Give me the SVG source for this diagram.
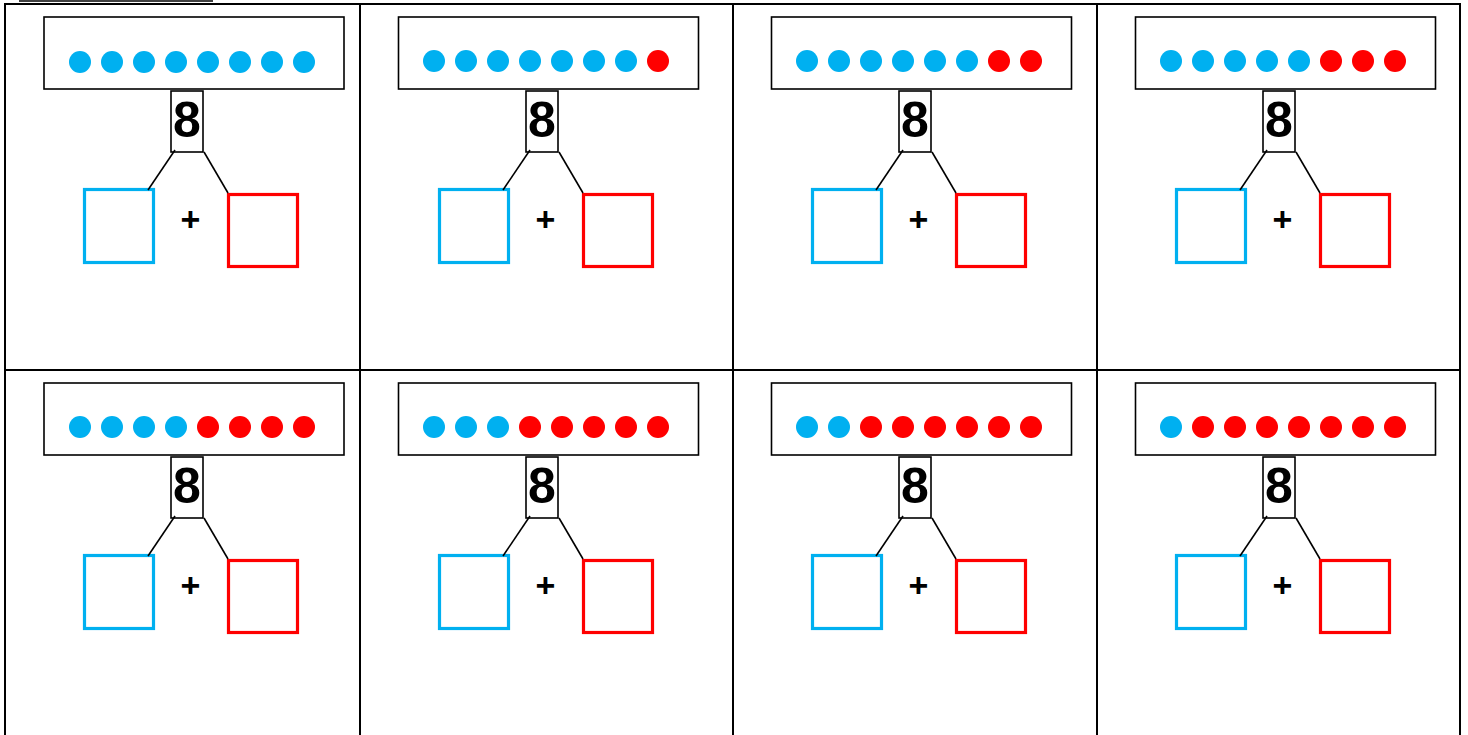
<svg xmlns="http://www.w3.org/2000/svg" width="1468" height="735" viewBox="0 0 1468 735">
<style>
.grid{stroke:#000;stroke-width:2;fill:none}
.frame{fill:#fff;stroke:#000;stroke-width:1.6}
.b{fill:#00B0F0}
.r{fill:#FF0000}
.num{fill:#fff;stroke:#000;stroke-width:1.6}
.eight{font-family:"Liberation Sans",Arial,sans-serif;font-weight:bold;font-size:50px;text-anchor:middle;fill:#000}
.plus{font-family:"Liberation Sans",Arial,sans-serif;font-weight:bold;font-size:34px;text-anchor:middle;fill:#000}
.bsq{fill:none;stroke:#00B0F0;stroke-width:3.2}
.rsq{fill:none;stroke:#FF0000;stroke-width:3.2}
.con{stroke:#000;stroke-width:1.6;fill:none}
</style>
<defs>
<g id="base">
<rect class="num" x="171" y="91" width="32" height="61"/>
<text class="eight" x="187" y="137">8</text>
<rect class="bsq" x="84.5" y="189.5" width="69" height="73"/>
<rect class="rsq" x="228.5" y="194.5" width="69" height="72"/>
<text class="plus" x="190.5" y="231">+</text>
</g>
<g id="lines">
<line class="con" x1="175" y1="150" x2="148" y2="190"/>
<line class="con" x1="204" y1="152" x2="228" y2="193"/>
</g>
</defs>
<rect x="0" y="0" width="1468" height="735" fill="#fff"/>
<line x1="19" y1="1" x2="213" y2="1" stroke="#000" stroke-width="1.5"/>
<g id="table" class="grid">
<line x1="4" y1="4" x2="1461" y2="4"/>
<line x1="4" y1="370" x2="1461" y2="370"/>
<line x1="5" y1="4" x2="5" y2="735"/>
<line x1="360" y1="4" x2="360" y2="735"/>
<line x1="733" y1="4" x2="733" y2="735"/>
<line x1="1097" y1="4" x2="1097" y2="735"/>
<line x1="1460" y1="4" x2="1460" y2="735"/>
</g>
<g id="cell1" transform="translate(0,0)">
<rect class="frame" x="44" y="17" width="300" height="72"/>
<circle class="b" cx="80" cy="62" r="11"/><circle class="b" cx="112" cy="62" r="11"/><circle class="b" cx="144" cy="62" r="11"/><circle class="b" cx="176" cy="62" r="11"/><circle class="b" cx="208" cy="62" r="11"/><circle class="b" cx="240" cy="62" r="11"/><circle class="b" cx="272" cy="62" r="11"/><circle class="b" cx="304" cy="62" r="11"/>
<use href="#base"/>
</g>
<g id="cell2" transform="translate(355,0)">
<rect class="frame" x="43.5" y="17" width="300" height="72"/>
<circle class="b" cx="79" cy="61" r="11"/><circle class="b" cx="111" cy="61" r="11"/><circle class="b" cx="143" cy="61" r="11"/><circle class="b" cx="175" cy="61" r="11"/><circle class="b" cx="207" cy="61" r="11"/><circle class="b" cx="239" cy="61" r="11"/><circle class="b" cx="271" cy="61" r="11"/><circle class="r" cx="303" cy="61" r="11"/>
<use href="#base"/>
</g>
<g id="cell3" transform="translate(728,0)">
<rect class="frame" x="43.5" y="17" width="300" height="72"/>
<circle class="b" cx="79" cy="61" r="11"/><circle class="b" cx="111" cy="61" r="11"/><circle class="b" cx="143" cy="61" r="11"/><circle class="b" cx="175" cy="61" r="11"/><circle class="b" cx="207" cy="61" r="11"/><circle class="b" cx="239" cy="61" r="11"/><circle class="r" cx="271" cy="61" r="11"/><circle class="r" cx="303" cy="61" r="11"/>
<use href="#base"/>
</g>
<g id="cell4" transform="translate(1092,0)">
<rect class="frame" x="43.5" y="17" width="300" height="72"/>
<circle class="b" cx="79" cy="61" r="11"/><circle class="b" cx="111" cy="61" r="11"/><circle class="b" cx="143" cy="61" r="11"/><circle class="b" cx="175" cy="61" r="11"/><circle class="b" cx="207" cy="61" r="11"/><circle class="r" cx="239" cy="61" r="11"/><circle class="r" cx="271" cy="61" r="11"/><circle class="r" cx="303" cy="61" r="11"/>
<use href="#base"/>
</g>
<g id="cell5" transform="translate(0,366)">
<rect class="frame" x="44" y="17" width="300" height="72"/>
<circle class="b" cx="80" cy="61" r="11"/><circle class="b" cx="112" cy="61" r="11"/><circle class="b" cx="144" cy="61" r="11"/><circle class="b" cx="176" cy="61" r="11"/><circle class="r" cx="208" cy="61" r="11"/><circle class="r" cx="240" cy="61" r="11"/><circle class="r" cx="272" cy="61" r="11"/><circle class="r" cx="304" cy="61" r="11"/>
<use href="#base"/>
</g>
<g id="cell6" transform="translate(355,366)">
<rect class="frame" x="43.5" y="17" width="300" height="72"/>
<circle class="b" cx="79" cy="61" r="11"/><circle class="b" cx="111" cy="61" r="11"/><circle class="b" cx="143" cy="61" r="11"/><circle class="r" cx="175" cy="61" r="11"/><circle class="r" cx="207" cy="61" r="11"/><circle class="r" cx="239" cy="61" r="11"/><circle class="r" cx="271" cy="61" r="11"/><circle class="r" cx="303" cy="61" r="11"/>
<use href="#base"/>
</g>
<g id="cell7" transform="translate(728,366)">
<rect class="frame" x="43.5" y="17" width="300" height="72"/>
<circle class="b" cx="79" cy="61" r="11"/><circle class="b" cx="111" cy="61" r="11"/><circle class="r" cx="143" cy="61" r="11"/><circle class="r" cx="175" cy="61" r="11"/><circle class="r" cx="207" cy="61" r="11"/><circle class="r" cx="239" cy="61" r="11"/><circle class="r" cx="271" cy="61" r="11"/><circle class="r" cx="303" cy="61" r="11"/>
<use href="#base"/>
</g>
<g id="cell8" transform="translate(1092,366)">
<rect class="frame" x="43.5" y="17" width="300" height="72"/>
<circle class="b" cx="79" cy="61" r="11"/><circle class="r" cx="111" cy="61" r="11"/><circle class="r" cx="143" cy="61" r="11"/><circle class="r" cx="175" cy="61" r="11"/><circle class="r" cx="207" cy="61" r="11"/><circle class="r" cx="239" cy="61" r="11"/><circle class="r" cx="271" cy="61" r="11"/><circle class="r" cx="303" cy="61" r="11"/>
<use href="#base"/>
</g>
<g id="connectors">
<use href="#lines" transform="translate(0,0)"/>
<use href="#lines" transform="translate(355,0)"/>
<use href="#lines" transform="translate(728,0)"/>
<use href="#lines" transform="translate(1092,0)"/>
<use href="#lines" transform="translate(0,366)"/>
<use href="#lines" transform="translate(355,366)"/>
<use href="#lines" transform="translate(728,366)"/>
<use href="#lines" transform="translate(1092,366)"/>
</g>
</svg>
